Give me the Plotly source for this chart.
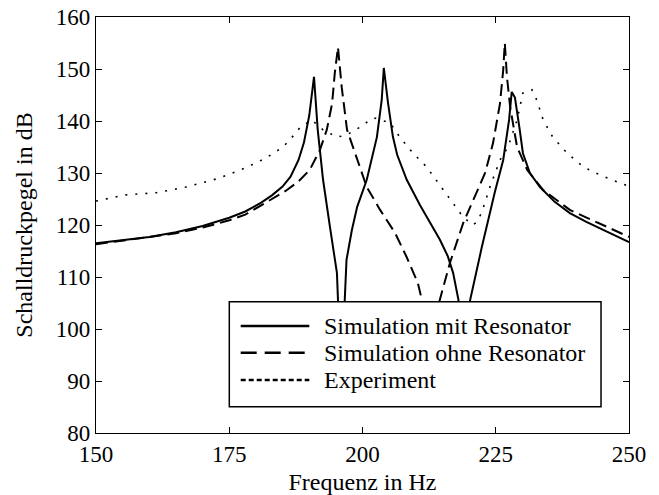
import plotly.graph_objects as go

# ---- data ----
f_mit = [150, 155, 160, 165, 170, 175, 178, 181, 183, 185, 186.5, 188, 189, 190, 190.9,
         191.6, 192.6, 193.9, 195.2, 196.0, 197.0, 198.0, 199.0, 200.8, 202.7, 203.6, 204.0,
         204.8, 205.7, 206.5, 208.3, 210.8, 212.1, 214.5, 216, 217, 218, 219, 220.2, 221.3,
         222.4, 223.6, 224.8, 226.4, 227.5, 228.0, 228.6, 229.5, 230.1, 231.4, 233.3, 236,
         238.9, 242, 246, 250]
L_mit = [116.5, 117.1, 117.7, 118.6, 119.8, 121.4, 122.6, 124.3, 125.7, 127.4, 129.3, 132.5,
         135.8, 141, 148.5, 138.3, 128.7, 119.6, 110.8, 90, 113.3, 119, 123.5, 128.7, 136.9,
         144, 150.2, 143.4, 137, 133.5, 128.7, 123.8, 121.5, 117.2, 114, 110.8, 105.6, 90, 105.6,
         111, 115.8, 121, 126.2, 132.5, 140.2, 145.6, 144.5, 138.3, 133.8, 130, 127.3, 124.5,
         122.3, 120.6, 118.6, 116.7]

f_ohne = [150, 155, 160, 165, 170, 175, 178, 180.6, 183, 185.5, 188, 190.1, 192, 193.3, 194.3,
          194.8, 195.4, 196.1, 197.1, 199, 200.8, 203.3, 206.1, 208.3, 210.4, 211.5, 213, 214.5,
          216.4, 218.9, 221.1, 223, 224.5, 225.8, 226.4, 226.7, 227.1, 227.7, 229, 230.9, 233.9,
          238.9, 245.1, 250]
L_ohne = [116.3, 117, 117.6, 118.4, 119.5, 120.9, 122, 123.6, 125, 126.5, 128.4, 130.6, 134.4,
          138.3, 143.4, 149.2, 154.2, 146.5, 138.3, 132.5, 127.3, 122.9, 118.5, 113.8, 108.8,
          104, 95, 105.6, 112.7, 120.4, 125.4, 130, 135.8, 143.4, 149.8, 155, 148.5, 142.7, 135,
          130.6, 126.7, 122.9, 120, 117.7]

f_exp = [150, 155.6, 161.3, 166.9, 173.1, 178.1, 181.9, 185.1, 187.5, 188.3, 190.5, 192.6,
         195.2, 197, 199.5, 201.4, 202.2, 205.2, 207, 209.5, 212, 214.2, 216.4, 218.9, 220.7,
         221.5, 222.4, 223.9, 225.8, 227.3, 229, 230.1, 231.8, 232.7, 233.9, 235.7, 238.4,
         241.4, 244.6, 248.3, 250]
L_exp = [124.6, 125.8, 126.2, 127.3, 129, 131, 132.9, 135, 137.7, 138.8, 140.2, 138.3, 136.9,
         137.3, 138.8, 140.2, 140.6, 139.6, 136.9, 133.8, 131.2, 128.1, 124.8, 121.5, 120,
         120.6, 122.5, 127.3, 132.5, 135, 140.2, 145.4, 146, 144, 140.2, 136.9, 133.8, 131.2,
         129.6, 128.1, 127.4]

names = ["Simulation mit Resonator", "Simulation ohne Resonator", "Experiment"]
x_ticks = [150, 175, 200, 225, 250]
y_ticks = [80, 90, 100, 110, 120, 130, 140, 150, 160]

FONT = "Liberation Serif"
TICK_SIZE = 23
TEXT_SIZE = 24

fig = go.Figure()
fig.add_trace(go.Scatter(x=f_mit, y=L_mit, mode="lines", name=names[0],
                         line=dict(color="black", width=2), showlegend=False))
fig.add_trace(go.Scatter(x=f_ohne, y=L_ohne, mode="lines", name=names[1],
                         line=dict(color="black", width=2, dash="12px,6px"), showlegend=False))
fig.add_trace(go.Scatter(x=f_exp, y=L_exp, mode="lines", name=names[2],
                         line=dict(color="black", width=1.6, dash="2px,8px"), showlegend=False))

# manual legend (box with long line samples, like the original)
lx0, lx1, ly0, ly1 = 0.2501, 0.9475, 0.0632, 0.3156
sx0, sx1, tx = 0.2715, 0.4002, 0.4235
rows = [0.2572, 0.1930, 0.1274]
dashes = ["solid", "16px,8px", "5px,3px"]
shapes = [dict(type="rect", xref="paper", yref="paper", x0=lx0, x1=lx1, y0=ly0, y1=ly1,
               fillcolor="white", line=dict(color="black", width=1.5), layer="above")]
annotations = []
for name, yy, d in zip(names, rows, dashes):
    shapes.append(dict(type="line", xref="paper", yref="paper", x0=sx0, x1=sx1, y0=yy, y1=yy,
                       line=dict(color="black", width=2.5, dash=d), layer="above"))
    annotations.append(dict(xref="paper", yref="paper", x=tx, y=yy, text=name, showarrow=False,
                            xanchor="left", yanchor="middle",
                            font=dict(family=FONT, size=TEXT_SIZE, color="black")))

fig.update_layout(
    width=659, height=495,
    margin=dict(l=96, r=30, t=17, b=62, autoexpand=False),
    paper_bgcolor="white", plot_bgcolor="white",
    font=dict(family=FONT, size=TEXT_SIZE, color="black"),
    shapes=shapes, annotations=annotations,
    showlegend=False,
)
fig.update_xaxes(range=[150, 250], tickvals=x_ticks, ticks="inside", ticklen=6,
                 tickcolor="black", showline=True, linecolor="black", linewidth=1.2,
                 mirror="ticks", showgrid=False, zeroline=False, automargin=False,
                 title=dict(text="Frequenz in Hz", standoff=12,
                            font=dict(family=FONT, size=TEXT_SIZE)),
                 tickfont=dict(family=FONT, size=TICK_SIZE))
fig.update_yaxes(range=[80, 160], tickvals=y_ticks, ticks="inside", ticklen=6,
                 tickcolor="black", showline=True, linecolor="black", linewidth=1.2,
                 mirror="ticks", showgrid=False, zeroline=False, automargin=False,
                 title=dict(text="Schalldruckpegel in dB", standoff=16,
                            font=dict(family=FONT, size=TEXT_SIZE)),
                 tickfont=dict(family=FONT, size=TICK_SIZE))

fig.write_html("out.html", config={"displayModeBar": False},
               post_script="document.body.style.margin='0px';")
